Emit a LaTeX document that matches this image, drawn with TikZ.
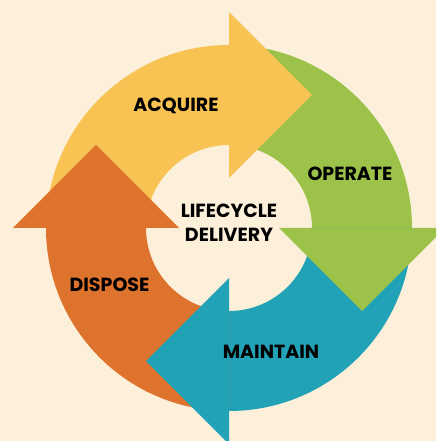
\documentclass[tikz,border=0pt]{standalone}
\usepackage{fontspec}
\setmainfont{Poppins}
\definecolor{fondo}{HTML}{FCF0DA}
\definecolor{amarillo}{HTML}{F9C354}
\definecolor{verde}{HTML}{9CC24A}
\definecolor{azul}{HTML}{21A2B6}
\definecolor{naranja}{HTML}{DD732C}
\tikzset{etiqueta/.style={font=\fontsize{19}{21}\selectfont\bfseries, text=black, inner sep=0pt}}
\begin{document}
\begin{tikzpicture}[x=1pt,y=1pt]
\useasboundingbox (-229,-213) rectangle (207,228);
\clip (-229,-213) rectangle (207,228);
\fill[fondo] (-229,-213) rectangle (207,228);
% cuerpos
\fill[amarillo] (180:183pt) arc[start angle=180,end angle=90,radius=183pt] -- (90:83pt) arc[start angle=90,end angle=180,radius=83pt] -- cycle;
\fill[verde] (90:183pt) arc[start angle=90,end angle=0,radius=183pt] -- (0:83pt) arc[start angle=0,end angle=90,radius=83pt] -- cycle;
\fill[azul] (0:183pt) arc[start angle=0,end angle=-90,radius=183pt] -- (-90:83pt) arc[start angle=-90,end angle=0,radius=83pt] -- cycle;
\fill[naranja] (-90:183pt) arc[start angle=-90,end angle=-180,radius=183pt] -- (180:83pt) arc[start angle=180,end angle=270,radius=83pt] -- cycle;
% puntas
\fill[amarillo] (0,50) -- (0,216) -- (83,133) -- cycle;
\fill[verde] (50,0) -- (216,0) -- (133,-83) -- cycle;
\fill[azul] (0,-50) -- (0,-216) -- (-83,-133) -- cycle;
\fill[naranja] (-50,0) -- (-216,0) -- (-133,83) -- cycle;
% textos
\node (centro1) [etiqueta] at (0,17) {LIFECYCLE};
\node (centro2) [etiqueta, node distance=24pt, below of = centro1] {DELIVERY};
\node (fase1) [etiqueta] at (-53,122) {ACQUIRE};
\node (fase2) [etiqueta] at (121,54) {OPERATE};
\node (fase3) [etiqueta] at (42,-124) {MAINTAIN};
\node (fase4) [etiqueta] at (-119.5,-57) {DISPOSE};
\end{tikzpicture}
\end{document}
